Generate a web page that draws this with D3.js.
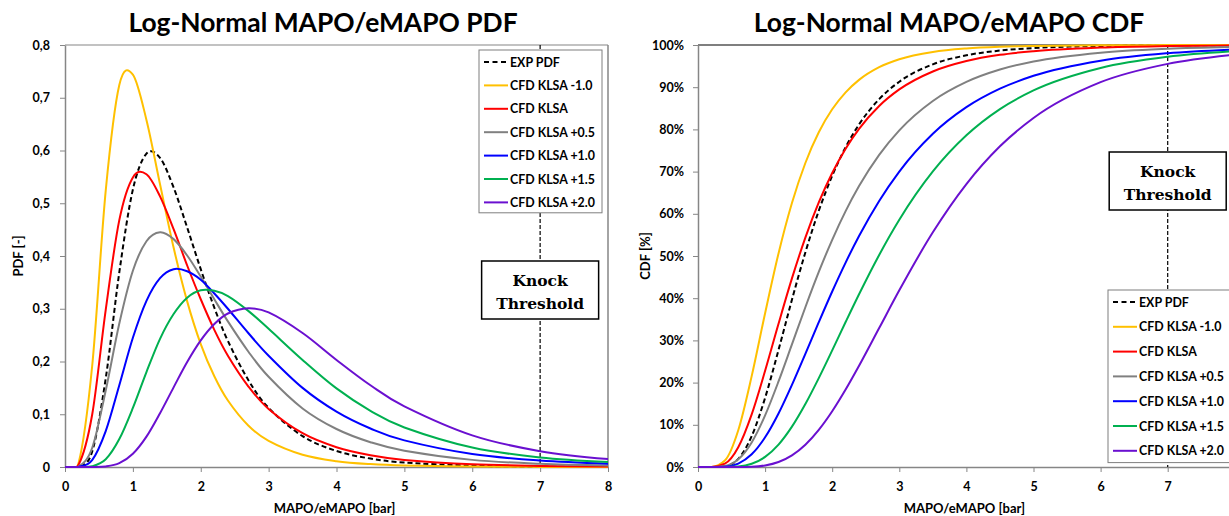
<!DOCTYPE html>
<html>
<head>
<meta charset="utf-8">
<script src="https://cdn.jsdelivr.net/npm/d3@7"></script>
<style>
body{margin:0;background:#fff;}
text{font-family:Lato,"Open Sans",sans-serif;font-weight:bold;fill:#000;}
.knock text{font-family:"DejaVu Serif",serif;}
</style>
</head>
<body>
<div id="viz-container"></div>
<script>
// MAPO/eMAPO values along x [bar]
let xs = [0, 0.2, 0.4, 0.6, 0.8, 1.0, 1.2, 1.4, 1.6, 1.8, 2.0, 2.2, 2.4, 2.7, 3.0, 3.5, 4.0, 4.5, 5.0, 6.0, 7.0, 8.0];

let seriesNames = ["EXP PDF", "CFD KLSA -1.0", "CFD KLSA", "CFD KLSA +0.5", "CFD KLSA +1.0", "CFD KLSA +1.5", "CFD KLSA +2.0"];

// PDF [-]
let pdfExp  = [0, 0.0003, 0.029, 0.168, 0.369, 0.526, 0.594, 0.586, 0.530, 0.454, 0.375, 0.302, 0.239, 0.165, 0.112, 0.0585, 0.0304, 0.016, 0.0085, 0.0025, 0.0008, 0.0003];
let pdfM10  = [0, 0.0077, 0.191, 0.524, 0.724, 0.744, 0.658, 0.536, 0.416, 0.314, 0.233, 0.172, 0.126, 0.0787, 0.0495, 0.0232, 0.0111, 0.0055, 0.0028, 0.0008, 0.0002, 0.0001];
let pdfKlsa = [0, 0.0043, 0.099, 0.298, 0.468, 0.549, 0.555, 0.513, 0.451, 0.382, 0.318, 0.260, 0.211, 0.153, 0.110, 0.064, 0.0375, 0.0223, 0.0135, 0.0052, 0.0021, 0.0009];
let pdfP05  = [0, 0.0008, 0.036, 0.145, 0.272, 0.372, 0.428, 0.445, 0.432, 0.401, 0.361, 0.318, 0.276, 0.219, 0.171, 0.111, 0.072, 0.047, 0.031, 0.0135, 0.0062, 0.003];
let pdfP10  = [0, 0.0002, 0.013, 0.068, 0.155, 0.245, 0.315, 0.358, 0.375, 0.371, 0.355, 0.329, 0.300, 0.254, 0.211, 0.150, 0.105, 0.073, 0.0505, 0.0246, 0.0123, 0.0063];
let pdfP15  = [0, 0, 0.0014, 0.0147, 0.053, 0.112, 0.180, 0.243, 0.290, 0.321, 0.335, 0.334, 0.324, 0.296, 0.262, 0.203, 0.149, 0.1065, 0.075, 0.037, 0.018, 0.0093];
let pdfP20  = [0, 0, 0, 0.001, 0.0072, 0.025, 0.0575, 0.102, 0.151, 0.199, 0.240, 0.271, 0.291, 0.301, 0.293, 0.254, 0.203, 0.155, 0.115, 0.060, 0.030, 0.015];

// CDF [%]
let cdfExp  = [0, 0, 0.17, 1.94, 7.31, 16.39, 27.73, 39.64, 50.85, 60.72, 69.0, 75.77, 81.17, 87.17, 91.29, 95.42, 97.56, 98.68, 99.28, 99.77, 99.92, 99.97];
let cdfM10  = [0, 0.02, 1.53, 8.72, 21.53, 36.45, 50.6, 62.54, 72.04, 79.32, 84.76, 88.78, 91.73, 94.74, 96.63, 98.36, 99.18, 99.58, 99.77, 99.93, 99.98, 99.99];
let cdfKlsa = [0, 0.01, 0.79, 4.7, 12.48, 22.8, 33.94, 44.69, 54.34, 62.68, 69.66, 75.43, 80.13, 85.55, 89.47, 93.73, 96.2, 97.67, 98.54, 99.4, 99.74, 99.88];
let cdfP05  = [0, 0, 0.23, 1.82, 5.83, 12.23, 20.27, 29.05, 37.86, 46.22, 53.84, 60.64, 66.57, 73.97, 79.78, 86.74, 91.26, 94.19, 96.1, 98.19, 99.12, 99.56];
let cdfP10  = [0, 0, 0.08, 0.82, 3.02, 7.04, 12.69, 19.47, 26.82, 34.31, 41.59, 48.44, 54.74, 63.05, 70.01, 78.96, 85.26, 89.65, 92.7, 96.29, 98.06, 98.95];
let cdfP15  = [0, 0, 0.01, 0.13, 0.76, 2.39, 5.31, 9.56, 14.92, 21.06, 27.63, 34.35, 40.94, 50.26, 58.6, 70.04, 78.6, 84.81, 89.23, 94.56, 97.21, 98.53];
let cdfP20  = [0, 0, 0, 0.01, 0.07, 0.37, 1.18, 2.76, 5.28, 8.8, 13.21, 18.35, 23.99, 32.92, 41.86, 55.61, 67.04, 75.99, 82.7, 91.19, 95.53, 97.72];

let xTicks = [0, 1, 2, 3, 4, 5, 6, 7, 8];
let pdfTicks = [0, 0.1, 0.2, 0.3, 0.4, 0.5, 0.6, 0.7, 0.8];
let pdfTickLabels = ["0", "0,1", "0,2", "0,3", "0,4", "0,5", "0,6", "0,7", "0,8"];
let cdfTicks = [0, 10, 20, 30, 40, 50, 60, 70, 80, 90, 100];
let cdfTickLabels = ["0%", "10%", "20%", "30%", "40%", "50%", "60%", "70%", "80%", "90%", "100%"];

let knockThreshold = 7;

// colours follow legend order
let colors = ["#000000", "#FFC000", "#FF0000", "#808080", "#0000FF", "#00B050", "#6A10D0"];

let pdfSeries = [pdfExp, pdfM10, pdfKlsa, pdfP05, pdfP10, pdfP15, pdfP20];
let cdfSeries = [cdfExp, cdfM10, cdfKlsa, cdfP05, cdfP10, cdfP15, cdfP20];

let W = 1229, H = 516;

//create canvas
let viz = d3.select("#viz-container")
    .append("svg")
    .attr("id","viz")
    .attr("width",W)
    .attr("height",H)
    .style("display","block")
;
viz.append("rect").attr("width",W).attr("height",H).attr("fill","#fff");

function drawPanel(p){
  let g = viz.append("g");

  let x = d3.scaleLinear().domain([0,8]).range([p.left, p.right]);
  let y = d3.scaleLinear().domain([0,p.yMax]).range([p.bottom, p.top]);

  let clipId = "clip" + p.id;
  viz.append("clipPath").attr("id",clipId)
    .append("rect")
      .attr("x",p.left)
      .attr("y",p.top - 2)
      .attr("width",Math.min(p.right, W) - p.left)
      .attr("height",p.bottom - p.top + 3)
  ;

  // plot border
  g.append("line")
    .attr("x1",p.left).attr("x2",Math.min(p.right, W))
    .attr("y1",p.top).attr("y2",p.top)
    .attr("stroke",p.topColor).attr("stroke-width",1.2);
  if(p.right < W){
    g.append("line")
      .attr("x1",p.right).attr("x2",p.right)
      .attr("y1",p.top).attr("y2",p.bottom)
      .attr("stroke","#868686").attr("stroke-width",1.5);
  }

  // axes
  let yAxis = d3.axisLeft(y)
    .tickValues(p.yTicks)
    .tickFormat(function(d,i){ return p.yLabels[i]; })
    .tickSize(5)
    .tickSizeOuter(0)
    .tickPadding(p.yPad);
  let ya = g.append("g").attr("transform","translate(" + p.left + ",0)").call(yAxis);

  // only the ticks that fall inside the page
  let xAxis = d3.axisBottom(x)
    .tickValues(xTicks.filter(function(t){ return x(t) <= W - 2; }))
    .tickFormat(d3.format("d"))
    .tickSize(5)
    .tickSizeOuter(0)
    .tickPadding(10);
  let xa = g.append("g").attr("transform","translate(0," + p.bottom + ")").call(xAxis);

  [ya, xa].forEach(function(a){
    a.select(".domain").attr("stroke","#868686").attr("stroke-width",1.5);
    a.selectAll(".tick line").attr("stroke","#868686").attr("stroke-width",1);
    a.selectAll(".tick text")
      .attr("font-family","Lato, sans-serif")
      .attr("font-weight","bold")
      .attr("font-size",12.5)
      .attr("fill","#000");
  });

  // axis titles
  g.append("text")
    .attr("x",(p.left + p.right)/2 - 2)
    .attr("y",513)
    .attr("text-anchor","middle")
    .attr("font-size",13)
    .text("MAPO/eMAPO [bar]");

  g.append("text")
    .attr("transform","translate(" + p.yTitleX + "," + ((p.top + p.bottom)/2) + ") rotate(-90)")
    .attr("text-anchor","middle")
    .attr("font-size",13)
    .text(p.yTitle);

  // chart title
  g.append("text")
    .attr("x",p.titleX)
    .attr("y",32)
    .attr("text-anchor","middle")
    .attr("font-size",26.4)
    .text(p.title);

  // knock threshold line
  g.append("line")
    .attr("x1",x(knockThreshold)).attr("x2",x(knockThreshold))
    .attr("y1",p.top).attr("y2",p.bottom)
    .attr("stroke","#000")
    .attr("stroke-width",1.2)
    .attr("stroke-dasharray","4,2");

  // curves
  let line = d3.line()
    .x(function(d,i){ return x(xs[i]); })
    .y(function(d){ return y(d); })
    .curve(p.curve);

  let curves = g.append("g").attr("clip-path","url(#" + clipId + ")");
  curves.selectAll("path").data(p.series).enter()
    .append("path")
      .attr("d",line)
      .attr("fill","none")
      .attr("stroke",function(d,i){ return colors[i]; })
      .attr("stroke-width",2)
      .attr("stroke-dasharray",function(d,i){ return i==0 ? "5,3" : null; })
  ;

  // knock threshold box
  let kb = g.append("g").attr("class","knock");
  kb.append("rect")
    .attr("x",x(knockThreshold) - 58.5)
    .attr("y",p.knockTop)
    .attr("width",117)
    .attr("height",58)
    .attr("fill","#fff")
    .attr("stroke","#000")
    .attr("stroke-width",1.5);
  kb.append("text")
    .attr("x",x(knockThreshold))
    .attr("y",p.knockTop + 25)
    .attr("text-anchor","middle")
    .attr("font-size",15.5)
    .text("Knock");
  kb.append("text")
    .attr("x",x(knockThreshold))
    .attr("y",p.knockTop + 47.5)
    .attr("text-anchor","middle")
    .attr("font-size",15.5)
    .text("Threshold");

  // legend
  let lg = g.append("g");
  lg.append("rect")
    .attr("x",p.legX)
    .attr("y",p.legY)
    .attr("width",123)
    .attr("height",p.legStep*7 - 1)
    .attr("fill","#fff")
    .attr("stroke","#7f7f7f")
    .attr("stroke-width",1);
  let items = lg.selectAll(".item").data(seriesNames).enter()
    .append("g")
      .attr("class","item")
      .attr("transform",function(d,i){ return "translate(" + p.legX + "," + (p.legY + 12 + i*p.legStep) + ")"; })
  ;
  items.append("line")
    .attr("x1",5).attr("x2",29)
    .attr("y1",0).attr("y2",0)
    .attr("stroke",function(d,i){ return colors[i]; })
    .attr("stroke-width",2)
    .attr("stroke-dasharray",function(d,i){ return i==0 ? "5,3.5" : null; });
  items.append("text")
    .attr("x",31)
    .attr("y",4.5)
    .attr("font-size",12.4)
    .text(function(d){ return d; });
}

drawPanel({
  id:"pdf", left:65, right:608, top:45, bottom:467, yMax:0.8,
  yTicks:pdfTicks, yLabels:pdfTickLabels, yTitle:"PDF [-]", yTitleX:23, yPad:10,
  title:"Log-Normal MAPO/eMAPO PDF", titleX:323, topColor:"#868686",
  series:pdfSeries, curve:d3.curveCatmullRom.alpha(0),
  knockTop:261, legX:479, legY:50, legStep:23.4
});

drawPanel({
  id:"cdf", left:698, right:698 + 8*67.1, top:45, bottom:467, yMax:100,
  yTicks:cdfTicks, yLabels:cdfTickLabels, yTitle:"CDF [%]", yTitleX:650, yPad:9,
  title:"Log-Normal MAPO/eMAPO CDF", titleX:949, topColor:"#000",
  series:cdfSeries, curve:d3.curveMonotoneX,
  knockTop:152, legX:1108, legY:290, legStep:24.8
});
</script>
</body>
</html>
